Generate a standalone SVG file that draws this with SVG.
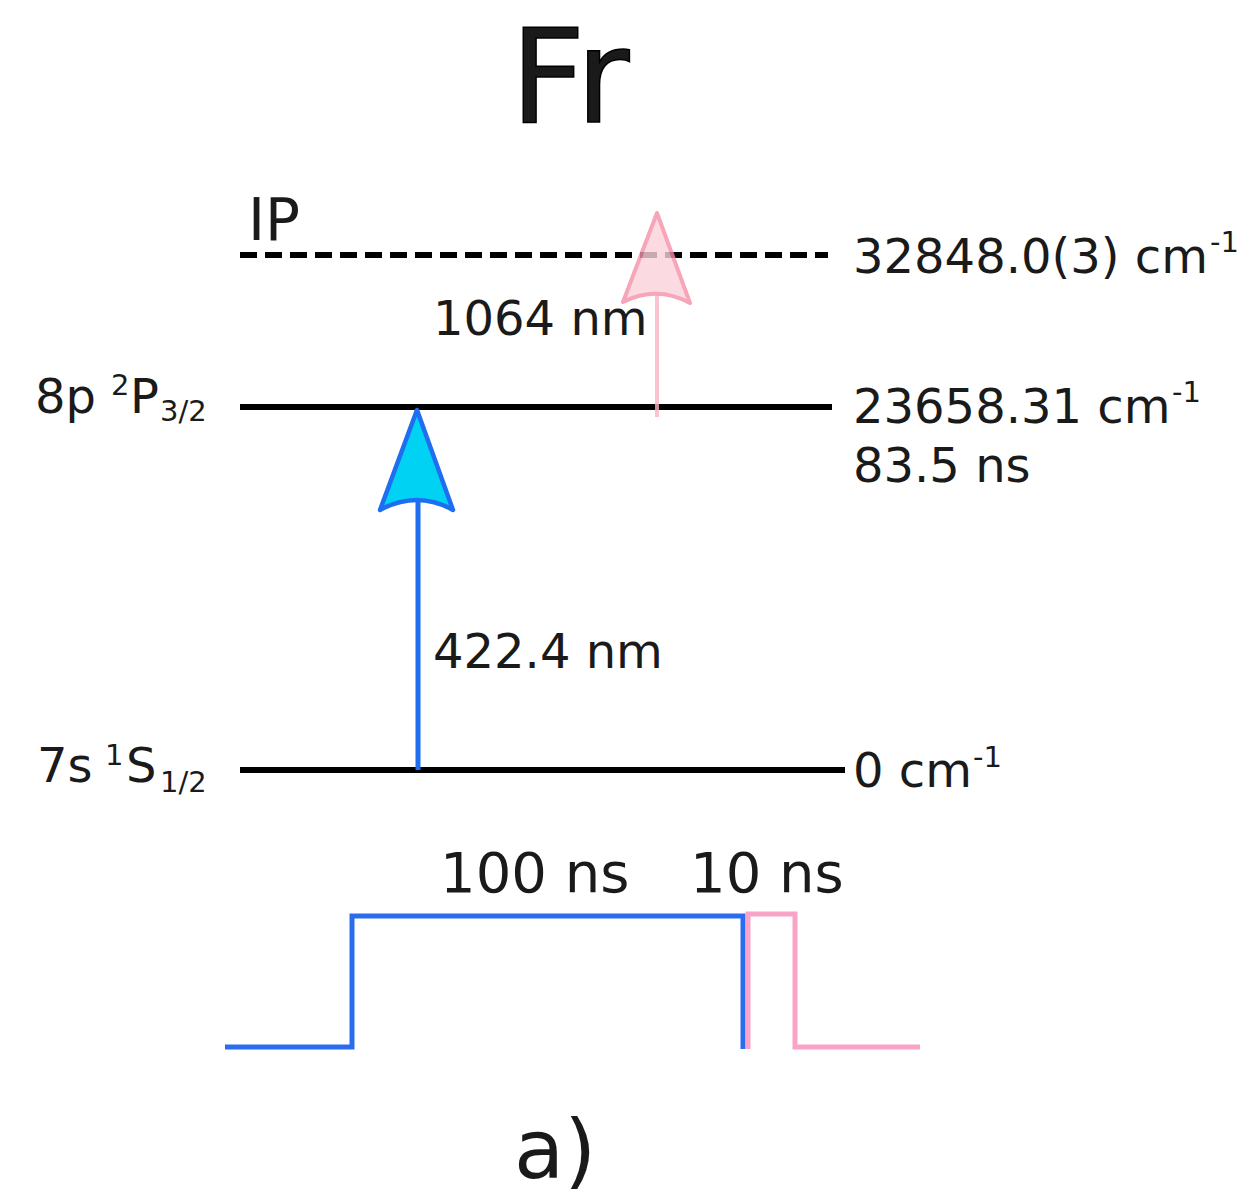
<svg xmlns="http://www.w3.org/2000/svg" width="1241" height="1196" viewBox="0 0 1241 1196">
<style>
text{font-family:"DejaVu Sans","Liberation Sans",sans-serif;fill:#1a1a1a}
.l{font-size:48px}
.s{font-size:29px}
.lvl{stroke:#000;stroke-width:6;fill:none}
</style>
<rect width="1241" height="1196" fill="#fff"/>
<text x="570" y="122" font-size="130" text-anchor="middle" fill="#000" stroke="#000" stroke-width="1.5">Fr</text>
<g id="level-ip">
<line class="lvl" x1="240" y1="255" x2="828" y2="255" stroke-dasharray="17 8"/>
<text x="248" y="240" font-size="58">IP</text>
<text class="l" x="853" y="273">32848.0(3) cm</text><text class="s" x="1210" y="252">-1</text>
</g>
<g id="level-8p">
<line class="lvl" x1="240" y1="407" x2="832" y2="407"/>
<text class="l" x="35" y="413">8p</text><text class="s" x="111" y="395">2</text><text class="l" x="130" y="413">P</text><text class="s" x="160" y="421">3/2</text>
<text class="l" x="853" y="423">23658.31 cm</text><text class="s" x="1172" y="402">-1</text>
<text class="l" x="853" y="482">83.5 ns</text>
</g>
<g id="level-7s">
<line class="lvl" x1="240" y1="770" x2="845" y2="770"/>
<text class="l" x="37" y="782">7s</text><text class="s" x="105" y="765">1</text><text class="l" x="126" y="782">S</text><text class="s" x="160" y="792">1/2</text>
<text class="l" x="853" y="787">0 cm</text><text class="s" x="973" y="767">-1</text>
</g>
<g id="connectors">
<g id="arrow-422">
<line x1="418" y1="770" x2="418" y2="495" stroke="#1f6ef0" stroke-width="5"/>
<path d="M417,410 L453,510 Q417,490 380,510 Z" fill="#00d2f4" stroke="#1f6ef0" stroke-width="4.5" stroke-linejoin="round"/>
</g>
<g id="arrow-1064" opacity="0.8">
<line x1="657" y1="417" x2="657" y2="290" stroke="#fbb4c4" stroke-width="4"/>
<path d="M657,213 L690,303 Q657,285 623,302 Z" fill="#fcd2dc" stroke="#f690a8" stroke-width="4" stroke-linejoin="round"/>
</g>
</g>
<text class="l" x="433" y="335">1064 nm</text>
<text class="l" x="433" y="668">422.4 nm</text>
<g id="pulses">
<polyline points="225,1047 352,1047 352,916 743,916 743,1049" fill="none" stroke="#2a6cf0" stroke-width="5"/>
<polyline points="748,1049 748,914 795,914 795,1047 920,1047" fill="none" stroke="#f9a3c7" stroke-width="5"/>
<text x="440" y="892" font-size="56">100 ns</text>
<text x="690" y="892" font-size="56">10 ns</text>
</g>
<text x="514" y="1178" font-size="82">a)</text>
</svg>
